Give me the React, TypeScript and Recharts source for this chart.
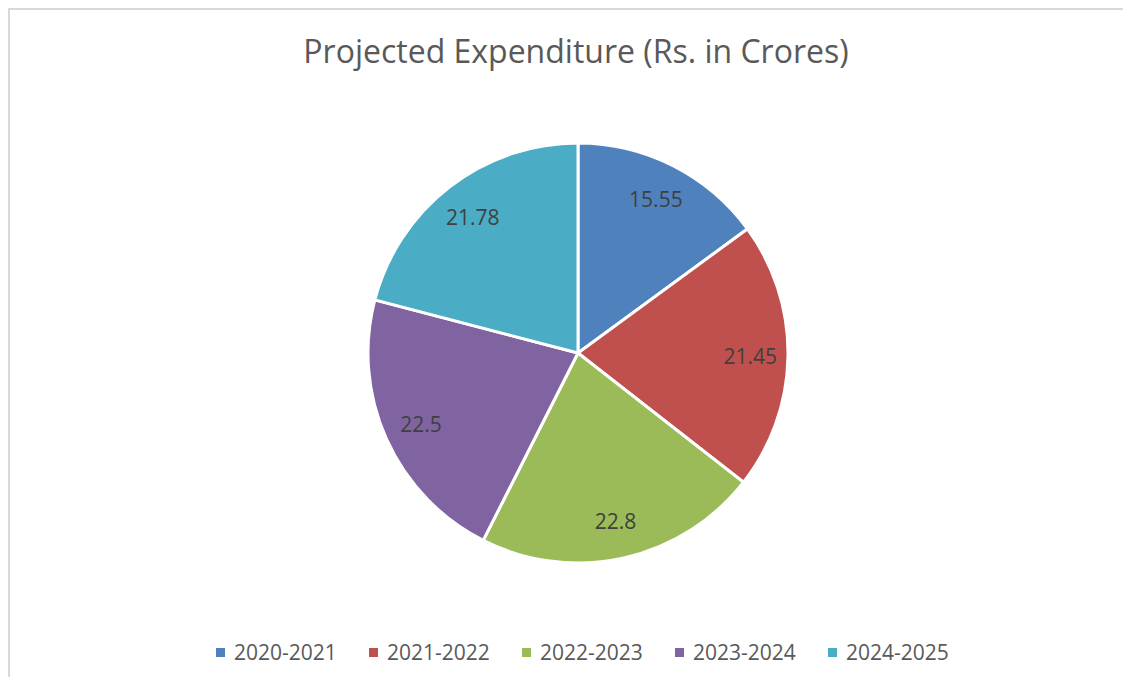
import { PieChart, Pie, Cell, Legend } from 'recharts';

const years = ['2020-2021', '2021-2022', '2022-2023', '2023-2024', '2024-2025'];
const expenditure = [15.55, 21.45, 22.8, 22.5, 21.78];
const sliceColors = ['#4F81BD', '#C0504D', '#9BBB59', '#8064A2', '#4BACC6'];

const pieData = years.map((year, i) => ({ name: year, value: expenditure[i] }));

const FONT = '"Open Sans", sans-serif';
const RADIAN = Math.PI / 180;

function renderLabel(props: any) {
  const { cx, cy, midAngle, outerRadius, value } = props;
  const r = outerRadius * 0.82;
  const x = cx + r * Math.cos(-midAngle * RADIAN);
  const y = cy + r * Math.sin(-midAngle * RADIAN);
  return (
    <text
      x={x}
      y={y}
      fill="#404040"
      fontSize={21}
      fontFamily={FONT}
      textAnchor="middle"
      dominantBaseline="central"
    >
      {value}
    </text>
  );
}

function renderLegend(props: any) {
  const { payload } = props;
  return (
    <div style={{ display: 'flex', alignItems: 'center', fontFamily: FONT }}>
      {(payload || []).map((entry: any, i: number) => (
        <div key={`leg-${i}`} style={{ display: 'flex', alignItems: 'center', width: 153 }}>
          <span
            style={{
              display: 'inline-block',
              width: 9,
              height: 9,
              background: entry.color,
              marginRight: 9,
            }}
          />
          <span style={{ fontSize: 21, lineHeight: '21px', color: '#595959' }}>{entry.value}</span>
        </div>
      ))}
    </div>
  );
}

export default function App() {
  return (
    <div
      style={{
        position: 'relative',
        width: 1123,
        height: 669,
        boxSizing: 'border-box',
        borderTop: '2px solid #d9d9d9',
        borderLeft: '2px solid #d9d9d9',
        overflow: 'hidden',
        background: '#fff',
      }}
    >
      <div
        style={{
          position: 'absolute',
          left: 166,
          top: 25,
          width: 800,
          textAlign: 'center',
          fontFamily: FONT,
          fontSize: 32,
          lineHeight: '32px',
          color: '#595959',
          zIndex: 1,
        }}
      >
        Projected Expenditure (Rs. in Crores)
      </div>
      <PieChart width={1121} height={667} margin={{ top: 0, right: 0, bottom: 0, left: 0 }}>
        <Pie
          data={pieData}
          dataKey="value"
          nameKey="name"
          cx={568}
          cy={343}
          outerRadius={210}
          startAngle={90}
          endAngle={-270}
          stroke="#ffffff"
          strokeWidth={3}
          label={renderLabel}
          labelLine={false}
          isAnimationActive={false}
        >
          {pieData.map((entry, index) => (
            <Cell key={`cell-${entry.name}`} fill={sliceColors[index]} />
          ))}
        </Pie>
        <Legend
          content={renderLegend}
          wrapperStyle={{ position: 'absolute', left: 206, top: 632, width: 800, bottom: 'auto' }}
        />
      </PieChart>
    </div>
  );
}
